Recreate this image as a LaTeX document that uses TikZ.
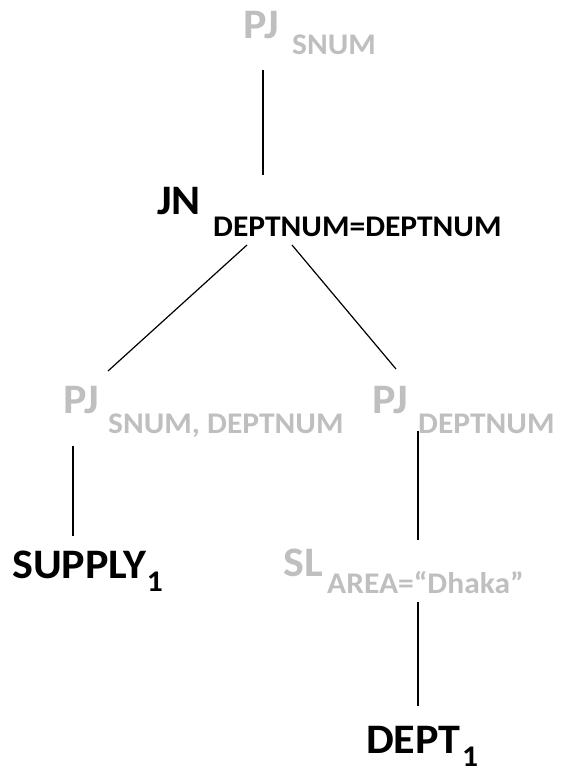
\documentclass[tikz,border=0pt]{standalone}
\usepackage{fontspec}
\setmainfont[FakeStretch=1.05]{Carlito}
\definecolor{lg}{RGB}{191,191,191}
\begin{document}
\begin{tikzpicture}[x=1pt,y=-1pt,
  big/.style={font=\bfseries\fontsize{42}{42}\selectfont,inner sep=0pt,anchor=base west},
  small/.style={font=\bfseries\fontsize{30}{30}\selectfont,inner sep=0pt,anchor=base west},
  grey/.style={text=lg},
  edge/.style={line width=1.2pt,black}]
\useasboundingbox (0,0) rectangle (584,774);
% labels
\node[big,grey] (pj1) at (243,38) {PJ};
\node[small,grey] (pj1s) at (292,54) {SNUM};
\node[big] (jn) at (157,214) {JN};
\node[small] (jns) at (213,236) {DEPTNUM=DEPTNUM};
\node[big,grey] (pj2) at (63,413) {PJ};
\node[small,grey] (pj2s) at (108,433) {SNUM, DEPTNUM};
\node[big,grey] (pj3) at (372,413) {PJ};
\node[small,grey] (pj3s) at (418,433) {DEPTNUM};
\node[big] (sup) at (12,578) {SUPPLY};
\node[small] (sups) at (sup.base east) [xshift=0,yshift=-13] {1};
\node[big,grey] (sl) at (283,576) {SL};
\node[small,grey] (sls) at (327,593) {AREA=“Dhaka”};
\node[big] (dept) at (366,753) {DEPT};
\node[small] (depts) at (dept.base east) [xshift=1,yshift=-13] {1};
% connector ends
\coordinate (a1) at (263,70);  \coordinate (a2) at (263,175);
\coordinate (b1) at (247,245); \coordinate (b2) at (108,371);
\coordinate (c1) at (292,245); \coordinate (c2) at (396,369);
\coordinate (d1) at (73,446);  \coordinate (d2) at (73,536);
\coordinate (e1) at (418,431); \coordinate (e2) at (418,540);
\coordinate (f1) at (418,602); \coordinate (f2) at (418,706);
\draw[edge] (a1) -- (a2);
\draw[edge] (b1) -- (b2);
\draw[edge] (c1) -- (c2);
\draw[edge] (d1) -- (d2);
\draw[edge] (e1) -- (e2);
\draw[edge] (f1) -- (f2);
\end{tikzpicture}
\end{document}
